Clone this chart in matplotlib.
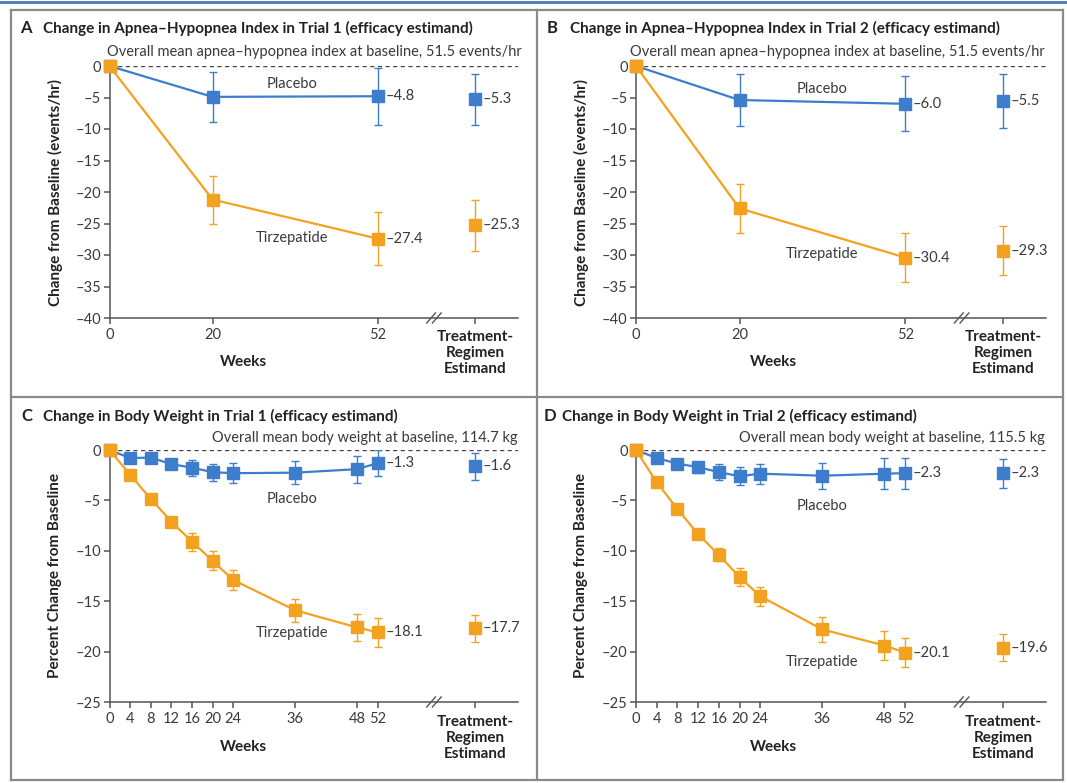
import matplotlib
matplotlib.use("Agg")
import matplotlib.pyplot as plt
import matplotlib.transforms as mtransforms
from matplotlib.lines import Line2D

plt.rcParams['font.family'] = ['Lato', 'DejaVu Sans']

W, H = 1067, 783
BLUE = '#3d7dcc'
ORANGE = '#f3a21f'
TXT = '#3a3a3a'
DARK = '#222222'
AXC = '#555555'

# ---------------- data ----------------
trt_x = 70.8          # where the treatment-regimen estimand sits on the week axis
xmax = 79.2
break_x = 62.9

ahi_weeks = [0, 20, 52]
bw_weeks = [0, 4, 8, 12, 16, 20, 24, 36, 48, 52]

# A: apnea-hypopnea index, trial 1
a_pbo = [0, -4.9, -4.8]
a_pbo_err = [0, 4.0, 4.5]
a_tzp = [0, -21.2, -27.4]
a_tzp_err = [0, 3.8, 4.2]
a_trt = [-5.3, -25.3]
a_trt_err = [4.1, 4.0]

# B: apnea-hypopnea index, trial 2
b_pbo = [0, -5.4, -6.0]
b_pbo_err = [0, 4.2, 4.35]
b_tzp = [0, -22.6, -30.4]
b_tzp_err = [0, 3.9, 3.9]
b_trt = [-5.5, -29.3]
b_trt_err = [4.3, 3.9]

# C: body weight, trial 1
c_pbo = [0, -0.8, -0.75, -1.4, -1.75, -2.2, -2.3, -2.25, -1.9, -1.3]
c_pbo_err = [0, 0.3, 0.3, 0.45, 0.8, 0.85, 1.0, 1.15, 1.35, 1.3]
c_tzp = [0, -2.45, -4.85, -7.1, -9.1, -11.0, -12.9, -15.9, -17.6, -18.1]
c_tzp_err = [0, 0.3, 0.35, 0.4, 0.9, 0.95, 1.0, 1.15, 1.35, 1.4]
c_trt = [-1.6, -17.7]
c_trt_err = [1.35, 1.35]

# D: body weight, trial 2
d_pbo = [0, -0.8, -1.35, -1.7, -2.2, -2.6, -2.35, -2.55, -2.35, -2.3]
d_pbo_err = [0, 0.3, 0.3, 0.55, 0.8, 0.9, 1.0, 1.3, 1.55, 1.55]
d_tzp = [0, -3.2, -5.85, -8.35, -10.4, -12.6, -14.5, -17.8, -19.4, -20.1]
d_tzp_err = [0, 0.3, 0.35, 0.4, 0.65, 0.9, 0.95, 1.25, 1.4, 1.4]
d_trt = [-2.3, -19.6]
d_trt_err = [1.45, 1.35]


def dash(v):
    return '0' if v == 0 else '\u2013' + f'{abs(v):g}'


def dash1(v):
    return '\u2013' + f'{abs(v):.1f}'


fig = plt.figure(figsize=(W / 100, H / 100), dpi=100)


def ftext(x, y, s, **kw):
    kw.setdefault('color', TXT)
    kw.setdefault('fontsize', 10.5)
    fig.text(x / W, 1 - y / H, s, **kw)


def panel(box, weeks, xt, pbo, pbo_err, tzp, tzp_err, trt, trt_err, ymin, pbo_lab, tzp_lab):
    l, t, r, b = box
    ax = fig.add_axes([l / W, 1 - b / H, (r - l) / W, (b - t) / H])
    ax.set_xlim(0, xmax)
    ax.set_ylim(ymin, 0)
    ax.axhline(0, color='#444444', lw=1, ls=(0, (3, 2.5)), zorder=1)
    for vals, err, tv, te, c in [(pbo, pbo_err, trt[0], trt_err[0], BLUE),
                                 (tzp, tzp_err, trt[1], trt_err[1], ORANGE)]:
        ew = [w for w, e in zip(weeks, err) if e > 0]
        ev = [v for v, e in zip(vals, err) if e > 0]
        ee = [e for e in err if e > 0]
        ax.errorbar(ew, ev, yerr=ee, fmt='none', ecolor=c, elinewidth=1, capsize=3, capthick=1, zorder=2)
        ax.plot(weeks, vals, color=c, lw=1.6, marker='s', ms=8, clip_on=False, zorder=3)
        ax.errorbar([trt_x], [tv], yerr=[te], fmt='s', color=c, ms=8, ecolor=c,
                    elinewidth=1, capsize=3, capthick=1, zorder=3)
        ax.annotate(dash1(vals[-1]), (weeks[-1], vals[-1]), xytext=(5.5, 0), textcoords='offset points',
                    va='center', ha='left', fontsize=10.5, color=TXT)
        ax.annotate(dash1(tv), (trt_x, tv), xytext=(6, 0), textcoords='offset points',
                    va='center', ha='left', fontsize=10.5, color=TXT)
    ax.text(*pbo_lab, 'Placebo', ha='center', va='center', fontsize=10.5, color=TXT)
    ax.text(*tzp_lab, 'Tirzepatide', ha='center', va='center', fontsize=10.5, color=TXT)

    for s in ['top', 'right']:
        ax.spines[s].set_visible(False)
    for s in ['left', 'bottom']:
        ax.spines[s].set_color(AXC)
        ax.spines[s].set_linewidth(1.1)
    yt = list(range(0, ymin - 1, -5))
    ax.set_yticks(yt)
    ax.set_yticklabels([dash(v) for v in yt])
    ax.set_xticks(list(xt) + [trt_x])
    ax.set_xticklabels([str(v) for v in xt] + [''])
    ax.tick_params(axis='both', colors=AXC, labelcolor=TXT, labelsize=10.5, length=4.5, width=1.1)
    ax.tick_params(axis='y', pad=1.5)
    ax.tick_params(axis='x', pad=3)

    # axis break marks
    tr = mtransforms.blended_transform_factory(ax.transData, ax.transAxes)
    for dx in (-0.55, 0.55):
        ax.plot([break_x + dx - 0.85, break_x + dx + 0.85], [-0.02, 0.02], transform=tr,
                color=AXC, lw=1, clip_on=False)
    return ax


# frame
fig.add_artist(Line2D([0, 1], [1 - 2 / H, 1 - 2 / H], color='#4a78b4', lw=2))
fr = dict(color='#8a8a8a', lw=1.6)
for y in (10, 397, 780):
    fig.add_artist(Line2D([11 / W, 1063 / W], [1 - y / H, 1 - y / H], **fr))
for x in (11, 537, 1063):
    fig.add_artist(Line2D([x / W, x / W], [1 - 10 / H, 1 - 780 / H], **fr))

panels = [
    dict(box=(109.5, 66, 518, 318), weeks=ahi_weeks, xt=ahi_weeks, pbo=a_pbo, pbo_err=a_pbo_err,
         tzp=a_tzp, tzp_err=a_tzp_err, trt=a_trt, trt_err=a_trt_err, ymin=-40,
         pbo_lab=(35.3, -2.9), tzp_lab=(35.3, -27.3)),
    dict(box=(636, 66, 1046, 318), weeks=ahi_weeks, xt=ahi_weeks, pbo=b_pbo, pbo_err=b_pbo_err,
         tzp=b_tzp, tzp_err=b_tzp_err, trt=b_trt, trt_err=b_trt_err, ymin=-40,
         pbo_lab=(36, -3.7), tzp_lab=(36, -29.9)),
    dict(box=(109.5, 450, 518, 702), weeks=bw_weeks, xt=bw_weeks, pbo=c_pbo, pbo_err=c_pbo_err,
         tzp=c_tzp, tzp_err=c_tzp_err, trt=c_trt, trt_err=c_trt_err, ymin=-25,
         pbo_lab=(35.3, -4.9), tzp_lab=(35.3, -18.2)),
    dict(box=(636, 450, 1046, 702), weeks=bw_weeks, xt=bw_weeks, pbo=d_pbo, pbo_err=d_pbo_err,
         tzp=d_tzp, tzp_err=d_tzp_err, trt=d_trt, trt_err=d_trt_err, ymin=-25,
         pbo_lab=(36, -5.55), tzp_lab=(36, -21.0)),
]
for p in panels:
    panel(**p)

# panel headings
heads = [
    ('A', 26, 43, 28, 'Change in Apnea\u2013Hypopnea Index in Trial 1 (efficacy estimand)',
     522, 52, 'Overall mean apnea\u2013hypopnea index at baseline, 51.5 events/hr'),
    ('B', 552, 570, 28, 'Change in Apnea\u2013Hypopnea Index in Trial 2 (efficacy estimand)',
     1045, 52, 'Overall mean apnea\u2013hypopnea index at baseline, 51.5 events/hr'),
    ('C', 27, 43, 416, 'Change in Body Weight in Trial 1 (efficacy estimand)',
     518, 438, 'Overall mean body weight at baseline, 114.7 kg'),
    ('D', 550, 562, 416, 'Change in Body Weight in Trial 2 (efficacy estimand)',
     1045, 438, 'Overall mean body weight at baseline, 115.5 kg'),
]
for letter, lx, tx, ty, title, sx, sy, sub in heads:
    ftext(lx, ty, letter, ha='center', va='center', fontsize=12, fontweight='bold', color=DARK)
    ftext(tx, ty, title, ha='left', va='center', fontsize=11, fontweight='bold', color=DARK)
    ftext(sx, sy, sub, ha='right', va='center', fontsize=10.5)

# axis titles
for x0, yc, ylab in [(55, 192, 'Change from Baseline (events/hr)'),
                     (581, 192, 'Change from Baseline (events/hr)'),
                     (55, 576, 'Percent Change from Baseline'),
                     (581, 576, 'Percent Change from Baseline')]:
    ftext(x0, yc, ylab, ha='center', va='center', rotation=90, fontsize=11, fontweight='bold', color=DARK)

for wx, wy in [(243, 362), (773, 362), (243, 747), (773, 747)]:
    ftext(wx, wy, 'Weeks', ha='center', va='center', fontsize=11, fontweight='bold', color=DARK)

for tx, ty in [(475, 353), (1003, 353), (475, 738), (1003, 738)]:
    ftext(tx, ty, 'Treatment-\nRegimen\nEstimand', ha='center', va='center', fontsize=11,
          fontweight='bold', color=DARK, linespacing=1.15)

fig.savefig('out.png', dpi=100)
